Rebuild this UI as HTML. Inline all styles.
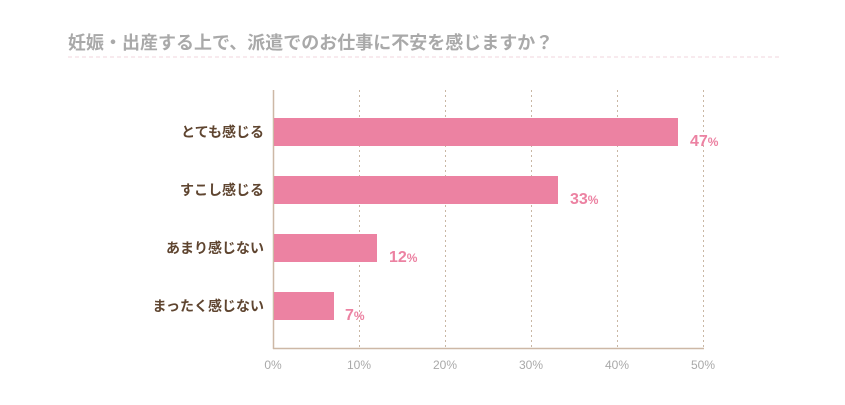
<!DOCTYPE html>
<html><head><meta charset="utf-8"><style>
body{margin:0;background:#fff;width:845px;height:400px;overflow:hidden}
text{font-family:"Liberation Sans","Noto Sans CJK JP",sans-serif}
</style></head><body>
<svg width="845" height="400" xmlns="http://www.w3.org/2000/svg">
<text x="68" y="49" font-size="18" font-weight="bold" fill="#a9a9a9">妊娠・出産する上で、派遣でのお仕事に不安を感じますか？</text>
<line x1="68" y1="57" x2="782" y2="57" stroke="#f6e4e8" stroke-width="1.5" stroke-dasharray="4,3"/>
<g stroke="#c9b7a4" stroke-width="1" stroke-dasharray="2,3">
<line x1="359.5" y1="90" x2="359.5" y2="348"/>
<line x1="445.5" y1="90" x2="445.5" y2="348"/>
<line x1="531.5" y1="90" x2="531.5" y2="348"/>
<line x1="617.5" y1="90" x2="617.5" y2="348"/>
<line x1="703.5" y1="90" x2="703.5" y2="348"/>
</g>
<line x1="273.5" y1="90" x2="273.5" y2="349" stroke="#cdb8a6" stroke-width="1.5"/>
<line x1="273" y1="348.5" x2="704" y2="348.5" stroke="#cdb8a6" stroke-width="1.5"/>
<g fill="#ec82a2">
<rect x="274" y="118" width="404" height="28"/>
<rect x="274" y="176" width="284" height="28"/>
<rect x="274" y="234" width="103" height="28"/>
<rect x="274" y="292" width="60" height="28"/>
</g>
<g font-size="14" font-weight="bold" fill="#5f4530" text-anchor="end">
<text x="264" y="137">とても感じる</text>
<text x="264" y="195">すこし感じる</text>
<text x="264" y="253">あまり感じない</text>
<text x="264" y="311">まったく感じない</text>
</g>
<g font-weight="bold" fill="#ec82a2">
<text x="690" y="146" font-size="16">47<tspan font-size="12">%</tspan></text>
<text x="570" y="204" font-size="16">33<tspan font-size="12">%</tspan></text>
<text x="389" y="262" font-size="16">12<tspan font-size="12">%</tspan></text>
<text x="345" y="320" font-size="16">7<tspan font-size="12">%</tspan></text>
</g>
<g font-size="12" fill="#a9a9a9" text-anchor="middle">
<text x="273" y="369">0%</text>
<text x="359" y="369">10%</text>
<text x="445" y="369">20%</text>
<text x="531" y="369">30%</text>
<text x="617" y="369">40%</text>
<text x="703" y="369">50%</text>
</g>
</svg>
</body></html>
